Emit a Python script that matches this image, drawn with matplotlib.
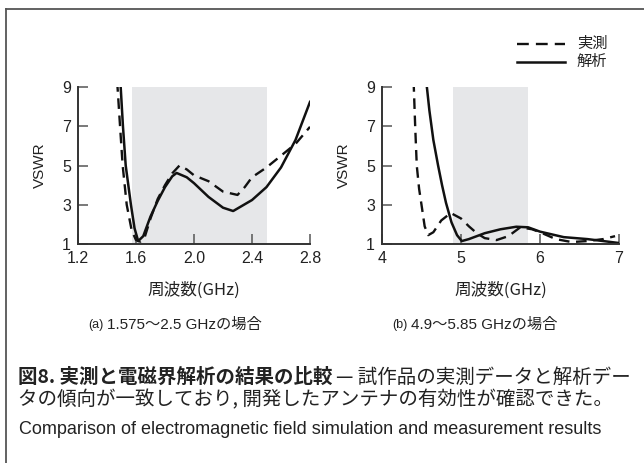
import matplotlib
matplotlib.use("Agg")
import matplotlib.pyplot as plt
from matplotlib.lines import Line2D

plt.rcParams['font.family'] = ['Liberation Sans', 'Noto Sans CJK JP']

# (a) 1.575-2.5 GHz band
a_meas_f = [1.470, 1.490, 1.508, 1.536, 1.570, 1.600, 1.630, 1.660, 1.700, 1.750, 1.800, 1.850,
            1.900, 1.950, 2.000, 2.100, 2.200, 2.300, 2.350, 2.400, 2.500, 2.600, 2.700, 2.800]
a_meas_v = [9.3, 7.0, 5.0, 3.0, 1.7, 1.2, 1.12, 1.35, 2.3, 3.3, 4.0, 4.6,
            5.0, 4.8, 4.5, 4.2, 3.67, 3.5, 3.9, 4.4, 4.9, 5.5, 6.1, 6.97]
a_sim_f = [1.492, 1.510, 1.529, 1.565, 1.590, 1.615, 1.650, 1.700, 1.750, 1.800, 1.850, 1.880,
           1.950, 2.000, 2.100, 2.200, 2.270, 2.400, 2.500, 2.600, 2.700, 2.800]
a_sim_v = [9.3, 7.0, 5.0, 3.0, 1.8, 1.15, 1.4, 2.4, 3.2, 3.9, 4.45, 4.62,
           4.4, 4.1, 3.4, 2.85, 2.68, 3.24, 3.9, 4.9, 6.3, 8.24]

# (b) 4.9-5.85 GHz band
b_meas_f = [4.400, 4.420, 4.440, 4.470, 4.500, 4.540, 4.585, 4.650, 4.750, 4.870, 5.000, 5.100,
            5.200, 5.300, 5.450, 5.600, 5.750, 5.900, 6.000, 6.200, 6.400, 6.600, 6.800, 6.950]
b_meas_v = [9.3, 7.0, 5.0, 3.8, 3.0, 1.9, 1.45, 1.6, 2.2, 2.58, 2.3, 1.9,
            1.55, 1.3, 1.2, 1.4, 1.85, 1.75, 1.6, 1.25, 1.1, 1.15, 1.25, 1.4]
b_sim_f = [4.560, 4.600, 4.650, 4.710, 4.760, 4.810, 4.880, 4.950, 5.010, 5.100, 5.300, 5.500,
           5.700, 5.850, 6.000, 6.300, 6.600, 6.800, 7.000]
b_sim_v = [9.3, 7.8, 6.3, 5.0, 4.0, 3.1, 2.1, 1.45, 1.15, 1.25, 1.55, 1.75,
           1.88, 1.85, 1.63, 1.35, 1.25, 1.15, 1.05]

a_xticks = [1.2, 1.6, 2.0, 2.4, 2.8]
a_xlabels = ['1.2', '1.6', '2.0', '2.4', '2.8']
b_xticks = [4, 5, 6, 7]
b_xlabels = ['4', '5', '6', '7']
yticks = [1, 3, 5, 7, 9]

fig = plt.figure(figsize=(6.44, 4.63), dpi=100)
W, H = 644, 463
DASH = (0, (4.5, 2.8))


def px(x, y):
    return x / W, 1 - y / H


def setup(ax, band, xlim, xticks, xlabels):
    ax.axvspan(band[0], band[1], color='#e6e7e9', lw=0, zorder=0)
    ax.set_xlim(*xlim)
    ax.set_ylim(1, 9)
    ax.set_xticks(xticks)
    ax.set_xticklabels(xlabels)
    ax.set_yticks(yticks)
    for s in ['top', 'right']:
        ax.spines[s].set_visible(False)
    for s in ['left', 'bottom']:
        ax.spines[s].set_linewidth(1.4)
        ax.spines[s].set_color('#333333')
    ax.tick_params(direction='in', length=7, width=1.1, color='#555555',
                   labelsize=11.5, labelcolor='#222222')
    ax.tick_params(axis='x', pad=5)
    ax.tick_params(axis='y', pad=5)
    ax.set_ylabel('VSWR', fontsize=11, color='#222222', labelpad=11)
    ax.set_xlabel('周波数(GHz)', fontsize=12, color='#222222', labelpad=11,
                  family=['Noto Sans CJK JP'])


ax1 = fig.add_axes([78 / W, 1 - 244 / H, (310 - 78) / W, (244 - 87) / H])
setup(ax1, (1.575, 2.5), (1.2, 2.8), a_xticks, a_xlabels)
ax1.plot(a_meas_f, a_meas_v, color='#111111', lw=1.7, ls=DASH)
ax1.plot(a_sim_f, a_sim_v, color='#111111', lw=1.8)

ax2 = fig.add_axes([382 / W, 1 - 244 / H, (619 - 382) / W, (244 - 87) / H])
setup(ax2, (4.9, 5.85), (4, 7), b_xticks, b_xlabels)
ax2.plot(b_meas_f, b_meas_v, color='#111111', lw=1.7, ls=DASH)
ax2.plot(b_sim_f, b_sim_v, color='#111111', lw=1.8)

# legend
x0, y0 = px(517, 44)
x1, _ = px(565, 44)
fig.add_artist(Line2D([x0, x1], [y0, y0], color='#111111', lw=1.7, ls=(0, (5, 3))))
_, y1 = px(0, 62)
fig.add_artist(Line2D([x0, x1], [y1, y1], color='#111111', lw=1.8))
fig.text(px(577, 0)[0], y0, '実測', fontsize=11, va='center', color='#222222')
fig.text(px(577, 0)[0], y1, '解析', fontsize=11, va='center', color='#222222')

# sub captions
fig.text(*px(88, 325), '(a)', fontsize=9, va='center', color='#222222')
fig.text(*px(107, 325), '1.575〜2.5 GHzの場合', fontsize=11, va='center', color='#222222')
fig.text(*px(392, 325), '(b)', fontsize=9, va='center', color='#222222')
fig.text(*px(411, 325), '4.9〜5.85 GHzの場合', fontsize=11, va='center', color='#222222')

# frame lines
fig.add_artist(Line2D([6 / W, 1], [1 - 9 / H, 1 - 9 / H], color='#555555', lw=1.3))
fig.add_artist(Line2D([6 / W, 6 / W], [0, 1 - 9 / H], color='#555555', lw=1.3))

# caption
t1 = fig.text(*px(18, 377), '図8. 実測と電磁界解析の結果の比較', fontsize=14, weight='bold',
              va='center', color='#222222', family=['Noto Sans CJK JP'])
fig.canvas.draw()
bb = t1.get_window_extent()
fig.text(bb.x1 / W + 4 / W, px(0, 377)[1], '— 試作品の実測データと解析デー', fontsize=14,
         va='center', color='#222222', family=['Noto Sans CJK JP'])
fig.text(*px(18, 400), 'タの傾向が一致しており, 開発したアンテナの有効性が確認できた。', fontsize=14,
         va='center', color='#222222', family=['Noto Sans CJK JP'])
fig.text(*px(19, 429), 'Comparison of electromagnetic field simulation and measurement results',
         fontsize=13, va='center', color='#222222')

fig.savefig('out.png', dpi=100)
